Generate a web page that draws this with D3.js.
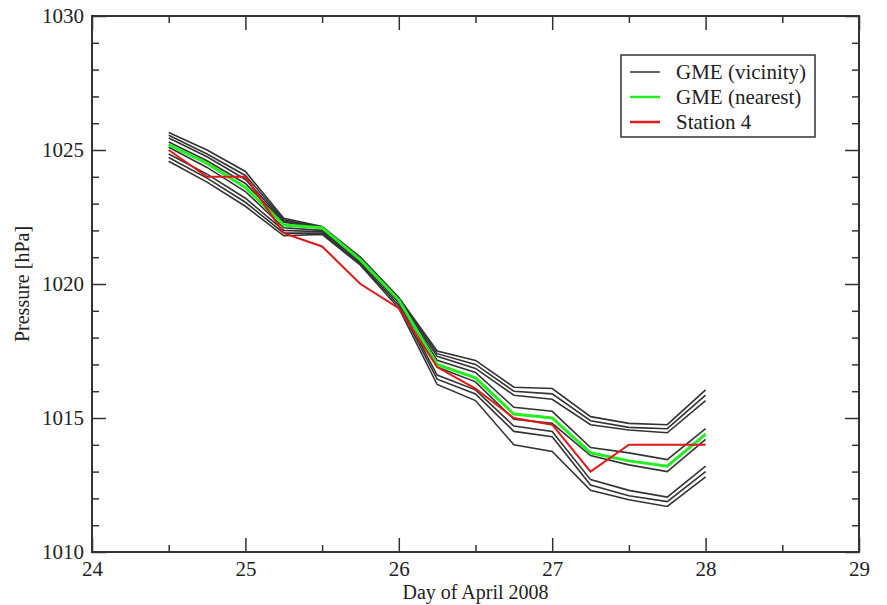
<!DOCTYPE html>
<html>
<head>
<meta charset="utf-8">
<script src="https://cdn.jsdelivr.net/npm/d3@7"></script>
<style>
  body { margin: 0; background: #fff; }
  svg text { font-family: "Liberation Serif", "Times New Roman", serif !important; fill: #222; }
</style>
</head>
<body>
<div id="chart"></div>
<script>
// time axis, days of April 2008 (6-hourly)
const days = [24.5, 24.75, 25, 25.25, 25.5, 25.75, 26, 26.25, 26.5, 26.75, 27, 27.25, 27.5, 27.75, 28];

// GME grid points in the vicinity of the station
const vicinity = [
  [1025.65, 1025.0, 1024.2, 1022.45, 1022.15, 1021.0, 1019.5, 1017.5, 1017.15, 1016.15, 1016.1, 1015.05, 1014.8, 1014.75, 1016.05],
  [1025.55, 1024.85, 1024.05, 1022.4, 1022.12, 1020.95, 1019.45, 1017.4, 1017.0, 1016.0, 1015.9, 1014.9, 1014.65, 1014.6, 1015.85],
  [1025.45, 1024.75, 1023.9, 1022.35, 1022.1, 1020.9, 1019.4, 1017.3, 1016.85, 1015.85, 1015.7, 1014.75, 1014.55, 1014.45, 1015.65],
  [1025.3, 1024.6, 1023.75, 1022.3, 1022.08, 1020.9, 1019.4, 1017.15, 1016.7, 1015.4, 1015.25, 1013.9, 1013.7, 1013.45, 1014.6],
  [1025.1, 1024.35, 1023.45, 1022.1, 1022.0, 1020.85, 1019.35, 1016.9, 1016.35, 1014.95, 1014.8, 1013.6, 1013.25, 1013.0, 1014.2],
  [1024.85, 1024.1, 1023.2, 1022.0, 1021.95, 1020.8, 1019.3, 1016.6, 1016.05, 1014.7, 1014.5, 1012.7, 1012.3, 1012.05, 1013.2],
  [1024.72, 1023.95, 1023.05, 1021.9, 1021.9, 1020.75, 1019.2, 1016.45, 1015.9, 1014.5, 1014.3, 1012.5, 1012.1, 1011.88, 1013.0],
  [1024.58, 1023.8, 1022.9, 1021.8, 1021.85, 1020.7, 1019.1, 1016.25, 1015.65, 1014.0, 1013.75, 1012.3, 1011.95, 1011.7, 1012.8]
];

// nearest GME grid point
const nearest = [1025.2, 1024.5, 1023.6, 1022.2, 1022.1, 1020.9, 1019.4, 1017.0, 1016.5, 1015.15, 1015.0, 1013.7, 1013.4, 1013.2, 1014.4];

// observations
const station = [1025.0, 1024.0, 1024.0, 1021.9, 1021.4, 1020.0, 1019.1, 1016.9, 1016.1, 1015.0, 1014.75, 1013.0, 1014.0, 1014.0, 1014.0];

const xTicks = [24, 25, 26, 27, 28, 29];
const xMinor = [24.5, 25.5, 26.5, 27.5, 28.5];
const yTicks = [1010, 1015, 1020, 1025, 1030];
const yMinor = d3.range(1011, 1030).filter(v => v % 5 !== 0);

const legendNames = ["GME (vicinity)", "GME (nearest)", "Station 4"];
const legendColors = ["#333333", "#22ee22", "#e01818"];

const width = 887, height = 605;
const margin = {top: 16, right: 28, bottom: 53, left: 92};
const serif = '"Liberation Serif", "Times New Roman", serif';

const svg = d3.select("#chart").append("svg")
  .attr("width", width)
  .attr("height", height);

let x = d3.scaleLinear().domain([24, 29]).range([margin.left, width - margin.right]);
let y = d3.scaleLinear().domain([1010, 1030]).range([height - margin.bottom, margin.top]);

const x0 = margin.left, x1 = width - margin.right;
const y0 = height - margin.bottom, y1 = margin.top;

// ticks pointing inward on all four sides
function drawAxis(axis, tx, ty, labels) {
  let g = svg.append("g")
    .attr("transform", `translate(${tx},${ty})`)
    .call(axis)
    .attr("font-family", serif)
    .attr("font-size", 21);
  g.select(".domain").remove();
  g.selectAll(".tick line").attr("stroke", "#333").attr("stroke-width", 1.5);
  if (!labels) g.selectAll(".tick text").remove();
  else g.selectAll(".tick text").attr("fill", "#222");
  return g;
}

drawAxis(d3.axisBottom(x).tickValues(xTicks).tickFormat(d3.format("d")).tickSize(-14).tickSizeOuter(0).tickPadding(9), 0, y0, true);
drawAxis(d3.axisBottom(x).tickValues(xMinor).tickSize(-7).tickSizeOuter(0), 0, y0, false);
drawAxis(d3.axisTop(x).tickValues(xTicks).tickSize(-14).tickSizeOuter(0), 0, y1, false);
drawAxis(d3.axisTop(x).tickValues(xMinor).tickSize(-7).tickSizeOuter(0), 0, y1, false);

drawAxis(d3.axisLeft(y).tickValues(yTicks).tickFormat(d3.format("d")).tickSize(-14).tickSizeOuter(0).tickPadding(8), x0, 0, true);
drawAxis(d3.axisLeft(y).tickValues(yMinor).tickSize(-7).tickSizeOuter(0), x0, 0, false);
drawAxis(d3.axisRight(y).tickValues(yTicks).tickSize(-14).tickSizeOuter(0), x1, 0, false);
drawAxis(d3.axisRight(y).tickValues(yMinor).tickSize(-7).tickSizeOuter(0), x1, 0, false);

// frame
svg.append("rect")
  .attr("x", x0).attr("y", y1)
  .attr("width", x1 - x0).attr("height", y0 - y1)
  .attr("fill", "none")
  .attr("stroke", "#333")
  .attr("stroke-width", 2);

let line = d3.line()
  .x(function(d, i) { return x(days[i]); })
  .y(function(d) { return y(d); });

svg.append("g").selectAll("path")
  .data(vicinity)
  .enter().append("path")
  .attr("d", line)
  .attr("fill", "none")
  .attr("stroke", legendColors[0])
  .attr("stroke-width", 1.6);

svg.append("path")
  .attr("d", line(nearest))
  .attr("fill", "none")
  .attr("stroke", legendColors[1])
  .attr("stroke-width", 3);

svg.append("path")
  .attr("d", line(station))
  .attr("fill", "none")
  .attr("stroke", legendColors[2])
  .attr("stroke-width", 2);

// axis titles
svg.append("text")
  .attr("x", (x0 + x1) / 2)
  .attr("y", 599)
  .attr("font-family", serif)
  .style("text-anchor", "middle")
  .style("font-size", "20px")
  .text("Day of April 2008");

svg.append("text")
  .attr("transform", `translate(29, ${(y0 + y1) / 2}) rotate(-90)`)
  .attr("font-family", serif)
  .style("text-anchor", "middle")
  .style("font-size", "20px")
  .text("Pressure [hPa]");

// legend
let legend = svg.append("g").attr("transform", "translate(621, 55)");
legend.append("rect")
  .attr("width", 194).attr("height", 82)
  .attr("fill", "#fff")
  .attr("stroke", "#333")
  .attr("stroke-width", 1.5);

let items = legend.selectAll(".item")
  .data(legendNames)
  .enter().append("g")
  .attr("class", "item")
  .attr("transform", function(d, i) { return `translate(0, ${17 + i * 25})`; });

items.append("line")
  .attr("x1", 9).attr("x2", 39)
  .attr("stroke", function(d, i) { return legendColors[i]; })
  .attr("stroke-width", function(d, i) { return i === 0 ? 1.5 : 2.5; });

items.append("text")
  .attr("x", 55)
  .attr("y", 7)
  .attr("font-family", serif)
  .style("font-size", "21px")
  .text(function(d) { return d; });
</script>
</body>
</html>
